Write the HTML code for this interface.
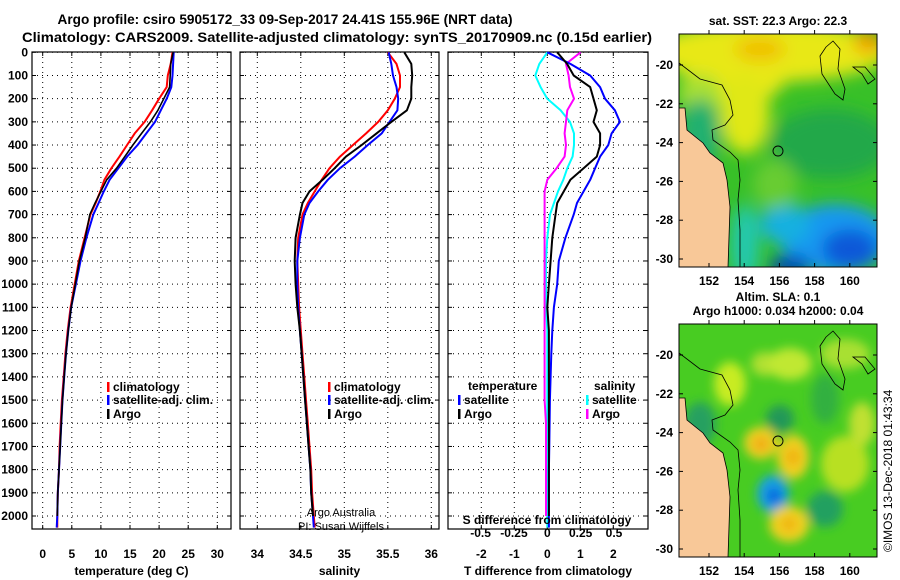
<!DOCTYPE html>
<html><head><meta charset="utf-8"><style>
html,body{margin:0;padding:0;background:#fff;}
svg{display:block;font-family:"Liberation Sans",sans-serif;font-weight:bold;}
</style></head><body>
<svg id="chart" width="900" height="580" viewBox="0 0 900 580">
<defs>
<filter id="blur6" x="-50%" y="-50%" width="200%" height="200%"><feGaussianBlur stdDeviation="5"/></filter>
<filter id="blur9" x="-50%" y="-50%" width="200%" height="200%"><feGaussianBlur stdDeviation="8"/></filter>
<clipPath id="clipTop"><rect x="679" y="34" width="198" height="233"/></clipPath>
<clipPath id="clipBot"><rect x="679" y="324" width="198" height="233"/></clipPath>
</defs>
<text x="285" y="24" font-size="13.5" text-anchor="middle" textLength="455" lengthAdjust="spacingAndGlyphs">Argo profile: csiro 5905172_33 09-Sep-2017 24.41S 155.96E (NRT data)</text>
<text x="337" y="42" font-size="13.5" text-anchor="middle" textLength="630" lengthAdjust="spacingAndGlyphs">Climatology: CARS2009. Satellite-adjusted climatology: synTS_20170909.nc (0.15d earlier)</text>
<g id="panels"></g>
<g id="maps"></g>
<text transform="translate(892,552) rotate(-90)" font-size="12" font-weight="normal">©IMOS 13-Dec-2018 01:43:34</text>
</svg>
<script>
const depths=[0,50,100,150,200,250,300,350,400,450,500,550,600,650,700,800,900,1000,1100,1200,1300,1400,1500,1600,1700,1800,1900,2000,2050];
const tempClim=[22.3,22,21.5,21.3,20.0,18.8,17.5,15.8,14.5,13.2,11.8,10.6,9.9,9.1,8.2,7.2,6.2,5.5,4.8,4.3,3.9,3.6,3.3,3.1,2.9,2.8,2.6,2.5,2.5];
const tempSat=[22.5,22.4,22.3,22.1,21.3,20.3,19.3,17.8,16.3,14.5,13.0,11.5,10.5,9.6,8.7,7.5,6.5,5.7,4.9,4.4,4.0,3.7,3.4,3.2,3.0,2.8,2.6,2.5,2.4];
const tempArgo=[22.4,22.0,21.9,21.8,20.8,19.8,18.5,17.0,15.5,14.1,12.7,11.0,10.0,9.0,8.1,7.3,6.3,5.6,4.9,4.4,4.0,3.7,3.4,3.2,3.0,2.8,2.6,2.5,null];
const salClim=[35.50,35.60,35.64,35.64,35.58,35.50,35.39,35.25,35.10,34.95,34.83,34.74,34.66,34.58,34.52,34.47,34.46,34.47,34.48,34.50,34.52,34.54,34.56,34.58,34.60,34.62,34.63,34.65,34.66];
const salSat=[35.51,35.54,35.56,35.60,35.62,35.61,35.52,35.43,35.27,35.12,34.95,34.81,34.70,34.60,34.54,34.49,34.46,34.46,34.47,34.49,34.51,34.53,34.55,34.57,34.59,34.61,34.62,34.64,34.65];
const salArgo=[35.69,35.77,35.78,35.77,35.77,35.72,35.54,35.37,35.20,35.02,34.89,34.75,34.60,34.52,34.49,34.44,34.43,34.44,34.46,34.49,34.51,34.53,34.55,34.57,34.59,34.61,34.62,34.64,null];
const tdiffSat=[0,0.7,1.3,1.6,1.75,2.05,2.2,1.95,1.85,1.6,1.45,1.3,1.1,0.9,0.8,0.55,0.35,0.3,0.2,0.15,0.12,0.1,0.08,0.07,0.06,0.05,0.05,0.05,0.05];
const tdiffArgo=[0.3,0.6,0.8,1.3,1.4,1.5,1.4,1.6,1.6,1.5,1.1,0.7,0.5,0.3,0.25,0.15,0.1,0.05,0.0,0.05,0.05,0.05,0.05,0.05,0.05,0.05,0.05,0.05,null];
const sdiffSat=[0,-0.06,-0.09,-0.05,0.0,0.1,0.17,0.2,0.2,0.19,0.15,0.12,0.08,0.05,0.02,0.0,-0.01,-0.01,-0.01,0,0,0,0,0,0,0,0,0,0];
const sdiffArgo=[0.25,0.14,0.16,0.17,0.2,0.15,0.14,0.13,0.14,0.13,0.07,0.0,-0.02,-0.02,-0.02,-0.02,-0.02,-0.02,-0.02,-0.02,-0.02,-0.02,-0.02,-0.01,-0.01,-0.01,-0.01,-0.01,null];
const depthTicks=[0,100,200,300,400,500,600,700,800,900,1000,1100,1200,1300,1400,1500,1600,1700,1800,1900,2000];
const tempTicks=[0,5,10,15,20,25,30];
const salTicks=[34,34.5,35,35.5,36];
const tdiffTicks=[-2,-1,0,1,2];
const sdiffTicks=[-0.5,-0.25,0,0.25,0.5];
const latTicks=[-20,-22,-24,-26,-28,-30];
const lonTicks=[152,154,156,158,160];

const NS='http://www.w3.org/2000/svg';
function mk(tag,attrs,parent){const e=document.createElementNS(NS,tag);for(const k in attrs)e.setAttribute(k,attrs[k]);parent.appendChild(e);return e;}
const Y0=52.3,Y1=516,TOP=52,BOT=529;
const yD=d=>Y0+(d/2000)*(Y1-Y0);
const xT=v=>42.7+v*(217.3-42.7)/30;
const xS=v=>257.3+(v-34)*87;
const xTD=v=>547.3+v*33;
const xSD=v=>547.3+v*133.4;
const panels=document.getElementById('panels');

function panel(name,x0,x1,xf,ticks,label,grid){
  const g=mk('g',{},panels);
  
  
  for(const d of depthTicks){const y=yD(d);
    const l=mk('line',{x1:x0,x2:x1,y1:y,y2:y,stroke:'#000','stroke-width':1,'stroke-dasharray':'1,4'},g);
    
    mk('line',{x1:x0,x2:x0+4,y1:y,y2:y,stroke:'#000'},g);mk('line',{x1:x1-4,x2:x1,y1:y,y2:y,stroke:'#000'},g);}
  for(const t of grid){const x=xf(t);
    const l=mk('line',{x1:x,x2:x,y1:TOP,y2:BOT,stroke:'#000','stroke-width':1,'stroke-dasharray':'1,4'},g);
    
    mk('line',{x1:x,x2:x,y1:BOT,y2:BOT-4,stroke:'#000'},g);mk('line',{x1:x,x2:x,y1:TOP,y2:TOP+4,stroke:'#000'},g);}
  for(const t of ticks){const tx=mk('text',{x:xf(t),y:558,'font-size':12,'text-anchor':'middle'},g);tx.textContent=t;
    }
  const lt=mk('text',{x:(x0+x1)/2,y:575,'font-size':12,'text-anchor':'middle'},g);lt.textContent=label;
  
  const r=mk('rect',{x:x0,y:TOP,width:x1-x0,height:BOT-TOP,fill:'none',stroke:'#000','stroke-width':1.2},g);
  
  return g;
}
function series(g,vals,xf,color,w,name){
  let d='';let started=false;
  vals.forEach((v,i)=>{if(v===null||v===undefined)return;d+=(started?'L':'M')+xf(v).toFixed(1)+','+yD(depths[i]).toFixed(1);started=true;});
  const p=mk('path',{d:d,fill:'none',stroke:color,'stroke-width':w,'stroke-linejoin':'round'},g);
  
  
}
function legend(g,x,y,color,text,name){
  mk('rect',{x:x,y:y-9,width:2.5,height:10,fill:color},g);
  const t=mk('text',{x:x+6,y:y,'font-size':12},g);t.textContent=text;
  
  
}
for(const d of depthTicks){const t=mk('text',{x:28,y:yD(d)+4,'font-size':12,'text-anchor':'end'},panels);t.textContent=d;
  }

const g1=panel('temperature-panel',32,231,xT,tempTicks,'temperature (deg C)',tempTicks);
series(g1,tempClim,xT,'#f00',2,'temp-climatology-line');
series(g1,tempSat,xT,'#00f',2,'temp-satellite-line');
series(g1,tempArgo,xT,'#000',1.6,'temp-argo-line');
legend(g1,107,391,'#f00','climatology','legend-climatology');
legend(g1,107,404,'#00f','satellite-adj. clim.','legend-satellite');
legend(g1,107,418,'#000','Argo','legend-argo');

const g2=panel('salinity-panel',240,439,xS,salTicks,'salinity',salTicks);
series(g2,salClim,xS,'#f00',2,'sal-climatology-line');
series(g2,salSat,xS,'#00f',2,'sal-satellite-line');
series(g2,salArgo,xS,'#000',2,'sal-argo-line');
legend(g2,328,391,'#f00','climatology','legend-climatology-sal');
legend(g2,328,404,'#00f','satellite-adj. clim.','legend-satellite-sal');
legend(g2,328,418,'#000','Argo','legend-argo-sal');
let t=mk('text',{x:341,y:516,'font-size':11,'font-weight':'normal','text-anchor':'middle'},g2);t.textContent='Argo Australia';
t=mk('text',{x:341,y:530,'font-size':11,'font-weight':'normal','text-anchor':'middle'},g2);t.textContent='PI: Susan Wijffels';

const g3=panel('difference-panel',448,648,xTD,tdiffTicks,'T difference from climatology',tdiffTicks);
series(g3,sdiffSat,xSD,'#0ff',2,'sdiff-satellite-line');
series(g3,sdiffArgo,xSD,'#f0f',2,'sdiff-argo-line');
series(g3,tdiffSat,xTD,'#00f',2,'tdiff-satellite-line');
series(g3,tdiffArgo,xTD,'#000',2,'tdiff-argo-line');
for(const s of sdiffTicks){const tx=mk('text',{x:xSD(s),y:537,'font-size':12,'text-anchor':'middle'},g3);tx.textContent=s;
  }
t=mk('text',{x:547,y:524,'font-size':12,'text-anchor':'middle'},g3);t.textContent='S difference from climatology';
t=mk('text',{x:468,y:390,'font-size':12},g3);t.textContent='temperature';
t=mk('text',{x:594,y:390,'font-size':12},g3);t.textContent='salinity';
legend(g3,458,404,'#00f','satellite','legend-t-satellite');
legend(g3,458,418,'#000','Argo','legend-t-argo');
legend(g3,586,404,'#0ff','satellite','legend-s-satellite');
legend(g3,586,418,'#f0f','Argo','legend-s-argo');

const maps=document.getElementById('maps');
const lonX=l=>709+(l-152)*17.6;
function map(name,y0,title,kind){
  const g=mk('g',{},maps);
  
  
  const latY=l=>y0+31+(-20-l)*19.4;
  const c=mk('g',{'clip-path':kind==='sst'?'url(#clipTop)':'url(#clipBot)'},g);
  mk('rect',{x:679,y:y0,width:198,height:233,fill:kind==='sst'?'#38c028':'#48cc22'},c);
  const bl=mk('g',{filter:kind==='sst'?'url(#blur9)':'url(#blur6)'},c);
  if(kind==='sst'){
    [[770,y0+18,120,30,'#e8e818'],[735,y0+45,50,25,'#e8e818'],[760,y0+15,25,12,'#f0c000'],[868,y0+8,14,12,'#f0a000'],
     [745,y0+80,25,40,'#e0e818'],[700,y0+60,22,20,'#a8e030'],
     [700,y0+100,20,35,'#20b070'],[830,y0+110,60,35,'#20a848'],[835,y0+205,55,35,'#1898f0'],[850,y0+215,28,20,'#1058d8'],
     [785,y0+190,25,20,'#18b0e0'],[790,y0+232,22,10,'#0040b0'],[745,y0+210,14,40,'#20c8b0'],[775,y0+150,22,25,'#68cc30']
    ].forEach(b=>mk('ellipse',{cx:b[0],cy:b[1],rx:b[2],ry:b[3],fill:b[4]},bl));
  } else {
    [[730,y0+60,16,22,'#c8ec20'],[765,y0+40,14,12,'#b0e030'],[790,y0+40,22,16,'#c0e830'],[845,y0+30,25,15,'#a8e030'],
     [780,y0+95,14,14,'#209858'],[700,y0+100,16,22,'#28a060'],[825,y0+75,14,25,'#30b040'],
     [761,y0+119,17,16,'#f0d020'],[761,y0+120,8,7,'#f0a818'],[793,y0+133,16,22,'#f0d020'],[793,y0+133,7,9,'#f0b010'],
     [773,y0+170,16,19,'#18a0e0'],[774,y0+172,7,8,'#0a60e0'],[789,y0+200,20,18,'#f0d020'],[789,y0+200,7,7,'#f0b010'],
     [845,y0+140,24,28,'#b8e020'],[825,y0+185,18,18,'#20a060'],[862,y0+100,13,22,'#c0e030']
    ].forEach(b=>mk('ellipse',{cx:b[0],cy:b[1],rx:b[2],ry:b[3],fill:b[4]},bl));
  }
  mk('polygon',{points:`679,${y0+74} 685,${y0+74} 687,${y0+96} 703,${y0+109} 710,${y0+119} 723,${y0+129} 727,${y0+146} 730,${y0+173} 728,${y0+233} 679,${y0+233}`,fill:'#f8c898',stroke:'#000','stroke-width':0.8},c);
  mk('polyline',{points:`679,${y0+29} 700,${y0+45} 722,${y0+51} 730,${y0+66} 733,${y0+81} 725,${y0+91} 712,${y0+96} 713,${y0+106} 730,${y0+118} 738,${y0+126} 740,${y0+146} 738,${y0+166} 740,${y0+196} 740,${y0+233}`,fill:'none',stroke:'#000','stroke-width':0.8},c);
  mk('path',{d:`M826,${y0+13} L833,${y0+7} L840,${y0+15} L838,${y0+35} L845,${y0+55} L843,${y0+66} L835,${y0+60} L822,${y0+40} L820,${y0+22} Z`,fill:'none',stroke:'#000','stroke-width':0.8},c);
  mk('path',{d:`M853,${y0+33} L865,${y0+33} L875,${y0+45} L868,${y0+50} L862,${y0+40} Z`,fill:'none',stroke:'#000','stroke-width':0.8},c);
  mk('circle',{cx:778,cy:y0+117,r:5,fill:'none',stroke:'#000','stroke-width':0.9},c);
  const fr=mk('rect',{x:679,y:y0,width:198,height:233,fill:'none',stroke:'#000','stroke-width':1},g);
  
  for(const la of latTicks){const y=latY(la);mk('line',{x1:679,x2:683,y1:y,y2:y,stroke:'#000'},g);mk('line',{x1:873,x2:877,y1:y,y2:y,stroke:'#000'},g);
    const tx=mk('text',{x:673,y:y+4,'font-size':12,'text-anchor':'end'},g);tx.textContent=la;
    }
  for(const lo of lonTicks){const x=lonX(lo);mk('line',{x1:x,x2:x,y1:y0+233,y2:y0+229,stroke:'#000'},g);mk('line',{x1:x,x2:x,y1:y0,y2:y0-4,stroke:'#000'},g);
    const tx=mk('text',{x:x,y:y0+251,'font-size':12,'text-anchor':'middle'},g);tx.textContent=lo;
    }
  title.forEach((s,i)=>{const tx=mk('text',{x:778,y:y0-23+i*14+(title.length===1?14:0),'font-size':12,'text-anchor':'middle'},g);tx.textContent=s;
    });
}
map('sst-map',34,['sat. SST: 22.3 Argo: 22.3'],'sst');
map('sla-map',324,['Altim. SLA: 0.1','Argo h1000: 0.034 h2000: 0.04'],'sla');
</script>
</body></html>
